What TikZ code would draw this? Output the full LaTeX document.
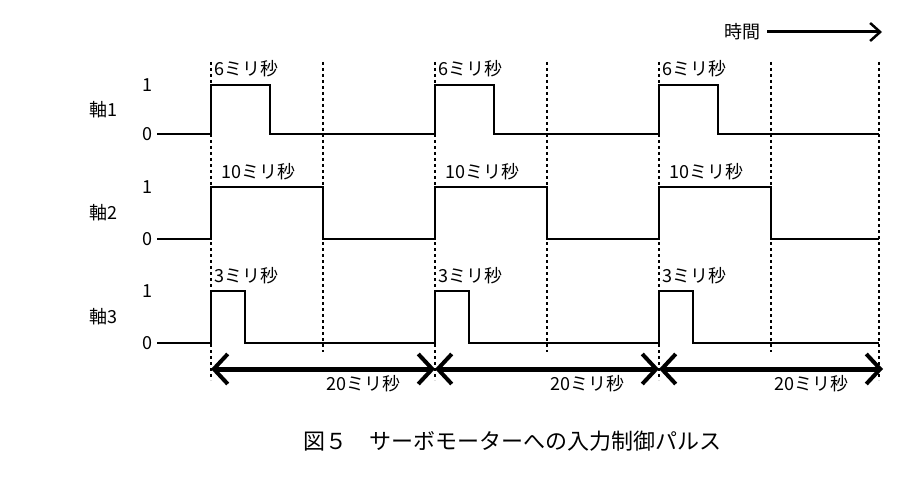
\documentclass[tikz,border=0pt]{standalone}
\usepackage{fontspec}
\setmainfont{Noto Sans CJK JP}
\usetikzlibrary{arrows.meta}
\begin{document}
\begin{tikzpicture}[x=1pt,y=-1pt,
 sig/.style={line width=1.8pt},
 dotl/.style={line width=1.8pt,dash pattern=on 3pt off 3pt},
 lbl/.style={font=\fontsize{18}{18}\selectfont,inner sep=0pt},
 per/.style={line width=5pt,{Straight Barb[length=14pt,width=30pt,line width=4pt]}-{Straight Barb[length=14pt,width=30pt,line width=4pt]}}]
\useasboundingbox (0,0) rectangle (915,489);
% dashed lines
\foreach \x in {211,435,659}{
  \draw[dotl] (\x,62) -- (\x,380);
  \draw[dotl] (\x+112,62) -- (\x+112,352);}
\draw[dotl] (879,62) -- (879,380);
% axis labels
\foreach \n/\yh/\yl in {1/85/134,2/187/239,3/291/343}{
  \node[lbl] (ax\n) at (103,{(\yh+\yl)/2}) {軸\n};
  \node[lbl] (one\n) at (147,\yh) {1};
  \node[lbl] (zero\n) at (147,\yl) {0};}
% signals
\draw[sig] (157,134) -- (211,134) -- (211,85) -- (270,85) -- (270,134) -- (435,134) -- (435,85) -- (494,85) -- (494,134) -- (659,134) -- (659,85) -- (718,85) -- (718,134) -- (879,134);
\draw[sig] (157,239) -- (211,239) -- (211,187) -- (323,187) -- (323,239) -- (435,239) -- (435,187) -- (547,187) -- (547,239) -- (659,239) -- (659,187) -- (771,187) -- (771,239) -- (879,239);
\draw[sig] (157,343) -- (211,343) -- (211,291) -- (245,291) -- (245,343) -- (435,343) -- (435,291) -- (469,291) -- (469,343) -- (659,343) -- (659,291) -- (693,291) -- (693,343) -- (879,343);
\foreach \x/\k in {211/a,435/b,659/c}{
  \node[lbl,anchor=west] (six\k) at (\x+3,69) {6ミリ秒};
  \node[lbl,anchor=west] (ten\k) at (\x+10,172) {10ミリ秒};
  \node[lbl,anchor=west] (three\k) at (\x+3,276) {3ミリ秒};
  \coordinate (s\k) at (\x,369);
  \coordinate (e\k) at (\x+224,369);
  \draw[per] (s\k) -- (e\k);
  \node[lbl,anchor=east] (tw\k) at (\x+190,384) {20ミリ秒};}
\node[lbl,anchor=east] (time) at (761,32) {時間};
\coordinate (t1) at (767,32); \coordinate (t2) at (882,32);
\draw[line width=3pt,-{Straight Barb[length=10pt,width=18pt,line width=2.5pt]}] (t1) -- (t2);
\node[inner sep=0pt,font=\fontsize{22}{22}\selectfont] (cap) at (512,441) {図５\quad サーボモーターへの入力制御パルス};
\end{tikzpicture}
\end{document}
